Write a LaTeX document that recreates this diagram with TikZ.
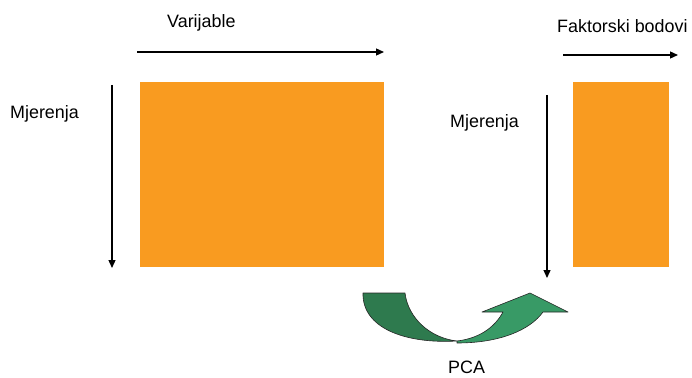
\documentclass[tikz,border=0pt]{standalone}
\usepackage{fontspec}
\setmainfont{Liberation Sans}
\usetikzlibrary{arrows.meta}
\definecolor{orng}{HTML}{F99B20}
\definecolor{gdark}{HTML}{2E7A4E}
\definecolor{glight}{HTML}{389A66}
\tikzset{
  lbl/.style={anchor=base west, inner sep=0pt, font=\fontsize{17.9}{20}\selectfont},
  block/.style={fill=orng, draw=none, inner sep=0pt, anchor=north west},
  axis/.style={line width=1.3pt, -{Triangle[length=8pt,width=7pt]}},
  gpart/.style={draw=black!85, line width=0.6pt, line join=round}
}
\begin{document}
\begin{tikzpicture}[x=1pt,y=-1pt]
\useasboundingbox (0,0) rectangle (692,377);
% orange blocks
\node[block, minimum width=244pt, minimum height=185pt] (big) at (140,82) {};
\node[block, minimum width=96pt, minimum height=185pt] (small) at (573,82) {};
% labels
\node[lbl] (var) at (167,27.5) {Varijable};
\node[lbl] (fak) at (557,33) {Faktorski bodovi};
\node[lbl] (mj1) at (10,118) {Mjerenja};
\node[lbl] (mj2) at (450,127) {Mjerenja};
\node[lbl] (pca) at (448,373) {PCA};
% arrow end points
\coordinate (a1s) at (137,52); \coordinate (a1e) at (384,52);
\coordinate (a2s) at (112,85); \coordinate (a2e) at (112,268);
\coordinate (a3s) at (563,55); \coordinate (a3e) at (678,55);
\coordinate (a4s) at (547,95); \coordinate (a4e) at (547,278);
\draw[axis] (a1s) -- (a1e);
\draw[axis] (a2s) -- (a2e);
\draw[axis] (a3s) -- (a3e);
\draw[axis] (a4s) -- (a4e);
% green curved arrow
\draw[gpart, fill=gdark] (363,293) -- (405,293)
  .. controls (408,318) and (430,338) .. (457,341)
  .. controls (405,344) and (362,328) .. (363,293) -- cycle;
\draw[gpart, fill=glight] (457,341)
  .. controls (482,338) and (496,325) .. (503,312)
  -- (482,312) -- (530,293) -- (568,312) -- (543,312)
  .. controls (530,330) and (500,343) .. (457,343) -- cycle;
\end{tikzpicture}
\end{document}
